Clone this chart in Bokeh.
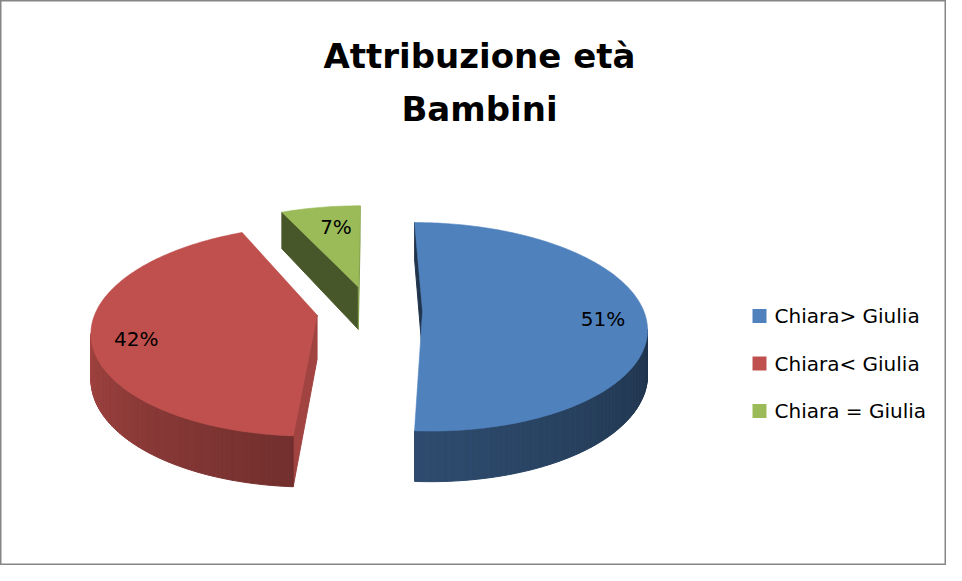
import numpy as np
from bokeh.plotting import figure
from bokeh.models import Range1d
from bokeh.core.properties import value
from bokeh.embed import file_html
from bokeh.resources import INLINE

# ---------------- data ----------------
title_lines = ["Attribuzione età", "Bambini"]
categories = ["Chiara> Giulia", "Chiara< Giulia", "Chiara = Giulia"]
values = [51, 42, 7]
colors = ["#4F81BD", "#C0504D", "#9BBB59"]

# ---------------- layout (pixel space of the chart) ----------------
W, H = 946, 565
CX, CY = 369.0, 309.9      # pie centre (top face)
RX, RY = 221.0, 104.0      # radii
K = 0.15                   # perspective
EXPL = 0.24                # explosion (fraction of radius)
DEPTH = 44.0               # thickness
LAB_R = 0.83
LAB_DX = [-4, 6, 10]       # label nudges (px)
LAB_DY = [5, 7, 8]
FONT = "DejaVu Sans"

p = figure(width=W, height=H, output_backend="svg", toolbar_location=None,
           x_range=Range1d(0, W), y_range=Range1d(H, 0),
           x_axis_location=None, y_axis_location=None, min_border=0)
p.grid.visible = False
p.background_fill_color = "white"
p.border_fill_color = "white"
p.outline_line_color = "#868686"
p.outline_line_width = 2


def proj(u, w, down=0.0):
    g = 1.0 - K * w
    return CX + RX * u * g, CY - RY * w * g + DEPTH * g * down


def hex_to_rgb(h):
    h = h.lstrip("#")
    return [int(h[i:i + 2], 16) for i in (0, 2, 4)]


def shade(h, f):
    r, g, b = hex_to_rgb(h)
    return "#%02x%02x%02x" % tuple(int(max(0, min(255, round(c * f)))) for c in (r, g, b))


def cross(a, b):
    return a[0] * b[1] - a[1] * b[0]


def visible(a, b, inside):
    d = (b[0] - a[0], b[1] - a[1])
    s1 = cross(d, (0.0, 1.0))
    s2 = cross(d, (inside[0] - a[0], inside[1] - a[1]))
    return s1 * s2 < 0


total = float(sum(values))
side_xs, side_ys, side_cols = [], [], []
top_xs, top_ys, top_cols = [], [], []
lab_x, lab_y, lab_t = [], [], []

start = 0.0
for i_s, (v, col) in enumerate(zip(values, colors)):
    span = 360.0 * v / total
    ts, te = start, start + span
    m = np.radians((ts + te) / 2)
    u0, w0 = EXPL * np.sin(m), EXPL * np.cos(m)
    n = max(2, int(np.ceil(span / 1.0)))
    th = np.radians(np.linspace(ts, te, n + 1))
    au, aw = u0 + np.sin(th), w0 + np.cos(th)
    tx, ty = proj(au, aw)
    bx, by = proj(au, aw, 1.0)
    vx, vy = proj(u0, w0)
    vbx, vby = proj(u0, w0, 1.0)
    cen = (float(np.mean(np.r_[vx, tx])), float(np.mean(np.r_[vy, ty])))

    # radial cut faces
    for idx, phi in ((0, ts - 90.0), (-1, te + 90.0)):
        a = (vx, vy)
        b = (tx[idx], ty[idx])
        if visible(a, b, cen):
            f = float(np.interp(phi % 360.0, [90, 270], [0.85, 0.40]))
            side_xs.append([vx, tx[idx], bx[idx], vbx])
            side_ys.append([vy, ty[idx], by[idx], vby])
            side_cols.append(shade(col, f))
    # outer wall
    for i in range(n):
        a = (tx[i], ty[i])
        b = (tx[i + 1], ty[i + 1])
        if visible(a, b, (vx, vy)):
            tmid = ((np.degrees(th[i]) + np.degrees(th[i + 1])) / 2) % 360.0
            f = float(np.interp(tmid, [90, 180, 270], [0.38, 0.58, 0.87]))
            side_xs.append([tx[i], tx[i + 1], bx[i + 1], bx[i]])
            side_ys.append([ty[i], ty[i + 1], by[i + 1], by[i]])
            side_cols.append(shade(col, f))
    top_xs.append(list(np.r_[vx, tx]))
    top_ys.append(list(np.r_[vy, ty]))
    top_cols.append(col)

    lx, ly = proj(u0 + LAB_R * np.sin(m), w0 + LAB_R * np.cos(m))
    lab_x.append(float(lx) + LAB_DX[i_s])
    lab_y.append(float(ly) + LAB_DY[i_s])
    lab_t.append("%d%%" % round(100 * v / total))
    start = te

p.patches(xs=side_xs, ys=side_ys, fill_color=side_cols, line_color=side_cols, line_width=1)
p.patches(xs=top_xs, ys=top_ys, fill_color=top_cols, line_color=top_cols, line_width=0.6)

p.text(x=lab_x, y=lab_y, text=lab_t, text_align="center", text_baseline="middle",
       text_font=value(FONT), text_font_size=value("20px"), text_color="black")

# title
p.text(x=[479, 479], y=[55, 108], text=title_lines, text_align="center",
       text_baseline="middle", text_font=value(FONT), text_font_style="bold",
       text_font_size=value("34px"), text_color="black")

# legend
leg_y = [315.5 + 47.5 * i for i in range(len(categories))]
p.rect(x=[759] * len(categories), y=leg_y, width=14, height=14,
       fill_color=colors, line_color=None)
p.text(x=[774] * len(categories), y=leg_y, text=categories,
       text_align="left", text_baseline="middle", text_font=value(FONT),
       text_font_size=value("20px"), text_color="black")

open("out.html", "w").write(file_html(p, INLINE))
